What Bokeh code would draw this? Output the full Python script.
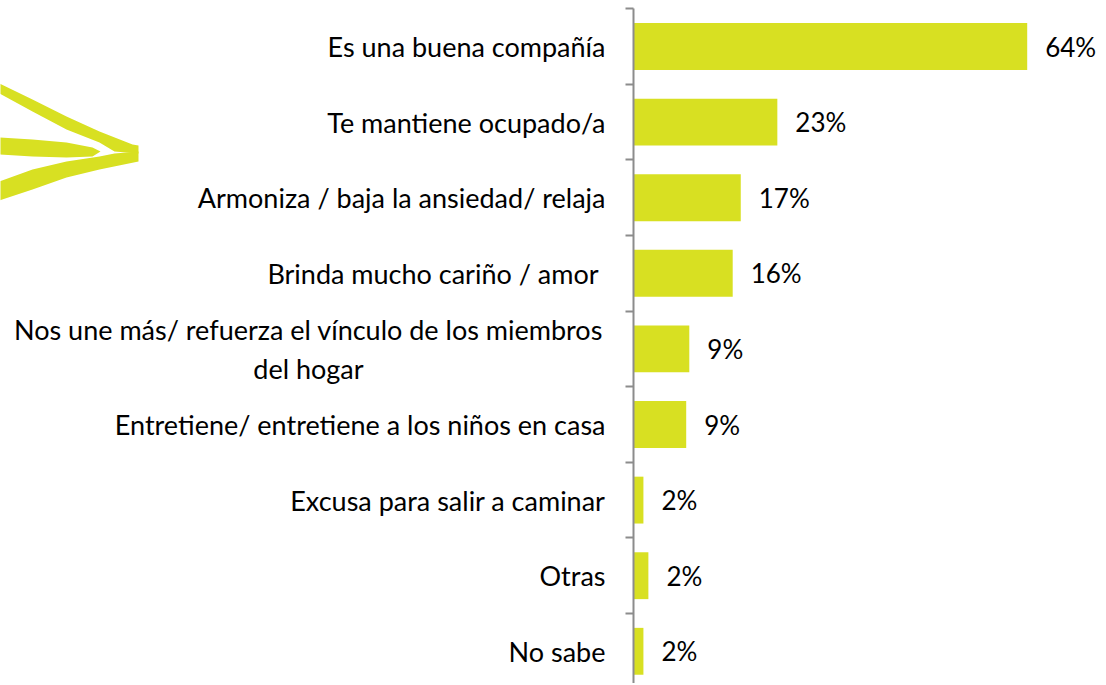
from bokeh.plotting import figure
from bokeh.models import Range1d, FixedTicker, ColumnDataSource, LinearAxis
from bokeh.core.properties import value
from bokeh.embed import file_html
from bokeh.resources import INLINE

categories = [
    "Es una buena compañía",
    "Te mantiene ocupado/a",
    "Armoniza / baja la ansiedad/ relaja",
    "Brinda mucho cariño  / amor",
    "Nos une más/ refuerza el vínculo de los miembros\ndel hogar",
    "Entretiene/ entretiene a los niños en casa",
    "Excusa para salir a caminar",
    "Otras",
    "No sabe",
]
values = [63.5, 23.2, 17.3, 16.0, 9.0, 8.5, 1.6, 2.4, 1.6]
labels = ["64%", "23%", "17%", "16%", "9%", "9%", "2%", "2%", "2%"]

BAR = "#d8e022"
AXIS = "#8c8c8c"
FONT = "Lato"
FS = "27px"

W, H = 1104, 683
OX, OY = 1, 1        # where the canvas sits on the page
AX_X = 634           # page x of the value axis
C0_Y = 47            # page y of the first category centre
PX_X = 6.2           # pixels per percentage point
PX_BAND = 75.6       # pixels per category band

n = len(categories)
idx = list(range(n))
multi = [i for i, c in enumerate(categories) if "\n" in c]
src = ColumnDataSource(dict(y=idx, v=values, lab=labels))
msrc = ColumnDataSource(dict(y=multi, t=[categories[i] for i in multi]))

p = figure(width=W, height=H, output_backend="svg", toolbar_location=None,
           x_range=Range1d((OX - AX_X) / PX_X, (OX + W - AX_X) / PX_X),
           y_range=Range1d((OY + H - C0_Y) / PX_BAND, (OY - C0_Y) / PX_BAND),
           x_axis_location=None, y_axis_location=None,
           min_border=0)
p.outline_line_color = None
p.grid.visible = False

ax = LinearAxis(fixed_location=0, bounds=(-0.5, n - 0.5))
ax.ticker = FixedTicker(ticks=idx, minor_ticks=[i - 0.5 for i in range(n + 1)])
ax.major_label_overrides = {i: ("" if i in multi else c) for i, c in enumerate(categories)}
ax.major_tick_line_color = None
ax.major_tick_out = 0
ax.major_tick_in = 0
ax.minor_tick_out = 8
ax.minor_tick_in = 0
ax.minor_tick_line_color = AXIS
ax.minor_tick_line_width = 2
ax.axis_line_color = AXIS
ax.axis_line_width = 2
ax.major_label_standoff = 20
ax.major_label_text_font = FONT
ax.major_label_text_font_size = FS
ax.major_label_text_color = "#000000"
p.add_layout(ax, "left")

# multi-line category label, lines centred on each other
p.text(x=0, y="y", text="t", source=msrc, x_offset=-325, text_align="center",
       text_baseline="middle", text_font=value(FONT), text_font_size=FS,
       text_color="#000000", text_line_height=1.2)

p.hbar(y="y", left=0, right="v", height=0.62, source=src, color=BAR, line_color=None)
p.text(x="v", y="y", text="lab", source=src, x_offset=18, text_align="left",
       text_baseline="middle", text_font=value(FONT), text_font_size="26px",
       text_color="#000000")

# decorative brush strokes, outlined in page pixels
strokes = [
    [(0, 84), (33, 100), (67, 117), (100, 132), (133, 145), (139, 146),
     (139, 154), (115, 152), (100, 143), (67, 130), (33, 112), (0, 94)],
    [(0, 138), (33, 140), (67, 143), (93, 148), (101, 152), (93, 157),
     (67, 158), (33, 157), (0, 155)],
    [(0, 182), (33, 170), (67, 162), (100, 157), (115, 154), (139, 152),
     (139, 162), (100, 170), (67, 178), (33, 190), (0, 201)],
]
p.patches(xs=[[(a - AX_X) / PX_X for a, b in s] for s in strokes],
          ys=[[(b - C0_Y) / PX_BAND for a, b in s] for s in strokes],
          fill_color=BAR, line_color=None)

open("out.html", "w").write(file_html(p, INLINE))
